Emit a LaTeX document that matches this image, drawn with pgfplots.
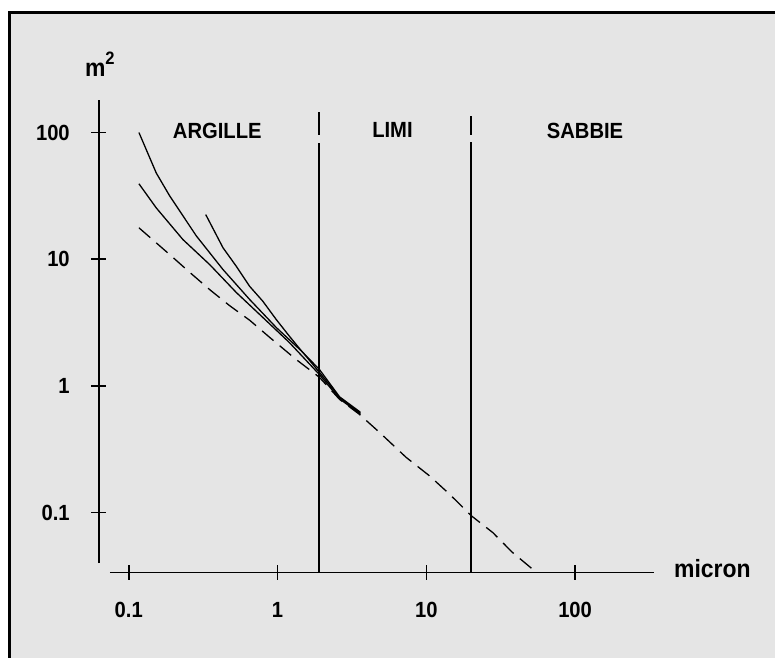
\documentclass[border=0pt]{standalone}
\usepackage{pgfplots}
\pgfplotsset{compat=1.18}
\usepackage{fontspec}
\setmainfont{Liberation Sans}[FakeStretch=0.92]
\definecolor{bg}{RGB}{229,229,229}
\newcommand{\labfont}{\bfseries\fontsize{22bp}{24bp}\selectfont}
\newcommand{\bigfont}{\bfseries\fontsize{25bp}{27bp}\selectfont}
\begin{document}
\begin{tikzpicture}
\fill[white] (0bp,0bp) rectangle (776bp,659bp);
\fill[bg] (9.5bp,0bp) rectangle (776bp,646.3bp);
\draw[line width=2.5bp] (9.5bp,0bp) -- (9.5bp,646.3bp) -- (776bp,646.3bp);
\path[use as bounding box] (0bp,0bp) rectangle (776bp,659bp);
\begin{axis}[
  at={(99bp,85.7bp)}, anchor=south west,
  scale only axis, width=556bp, height=473.3bp,
  xmode=log, ymode=log,
  xmin=0.06291, xmax=338.8, ymin=0.03373, ymax=181.1,
  axis x line*=bottom, axis y line*=left,
  axis line style={draw=none},
  xtick={0.1,1,10,100}, xticklabels={0.1,1,10,100},
  ytick={0.1,1,10,100}, yticklabels={0.1,1,10,100},
  xminorticks=false, yminorticks=false,
  tick align=center, major tick length=15bp,
  every tick/.style={draw=black, line width=1.6bp},
  ticklabel style={font=\labfont, inner sep=0pt},
  xticklabel shift=22.5bp, yticklabel shift=21.5bp,
  clip=false,
]
% axis lines
\draw[line width=1.6bp] (axis cs:0.06291,0.0399) -- (axis cs:0.06291,181.1);
\draw[line width=1.6bp] (axis cs:0.0746,0.03373) -- (axis cs:338.8,0.03373);
% boundaries between classes
\addplot[black, line width=1.6bp] coordinates {(1.9,0.03373) (1.9,83)};
\addplot[black, line width=1.6bp] coordinates {(1.9,95.9) (1.9,145.6)};
\addplot[black, line width=1.6bp] coordinates {(20,0.03373) (20,84.9)};
\addplot[black, line width=1.6bp] coordinates {(20,95.9) (20,135.4)};
% curves
\addplot[black, line width=1.3bp] coordinates {
(0.117,100) (0.153,47.9) (0.188,31.7) (0.284,15.3) (0.430,8.28) (0.649,4.81)
(0.98,2.89) (1.48,1.84) (1.91,1.28) (2.61,0.81) (3.6,0.61)};
\addplot[black, line width=1.3bp] coordinates {
(0.117,39.4) (0.153,25.4) (0.231,14.3) (0.350,9.06) (0.528,5.46) (0.796,3.47)
(1.20,2.20) (1.91,1.23) (2.61,0.79) (3.6,0.60)};
\addplot[black, line width=1.3bp] coordinates {
(0.329,22.5) (0.430,12.3) (0.528,8.79) (0.649,6.11) (0.796,4.66) (0.98,3.34)
(1.20,2.47) (1.48,1.83) (1.91,1.35) (2.61,0.82) (3.6,0.62)};
\addplot[black, line width=1.3bp, dash pattern=on 15bp off 8bp] coordinates {
(0.117,17.7) (0.188,10.9) (0.256,7.90) (0.350,5.75) (0.476,4.30) (0.649,3.30)
(0.883,2.42) (1.33,1.62) (1.91,1.17) (2.61,0.783) (3.55,0.596) (4.84,0.430)
(7.31,0.273) (10.5,0.195) (14.3,0.140) (20.1,0.0942) (27.9,0.0697)
(37.9,0.0485) (51.7,0.0358)};
% region labels
\node[font=\labfont] at (axis cs:0.3936,103) {ARGILLE};
\node[font=\labfont] at (axis cs:5.92,104) {LIMI};
\node[font=\labfont] at (axis cs:116.6,103) {SABBIE};
\end{axis}
\node[anchor=base west, inner sep=0pt, font=\bigfont] at (85bp,582bp) {m\raisebox{12bp}{\fontsize{18bp}{18bp}\selectfont 2}};
\node[anchor=base west, inner sep=0pt, font=\bigfont] at (675bp,81bp) {micron};
\end{tikzpicture}
\end{document}
